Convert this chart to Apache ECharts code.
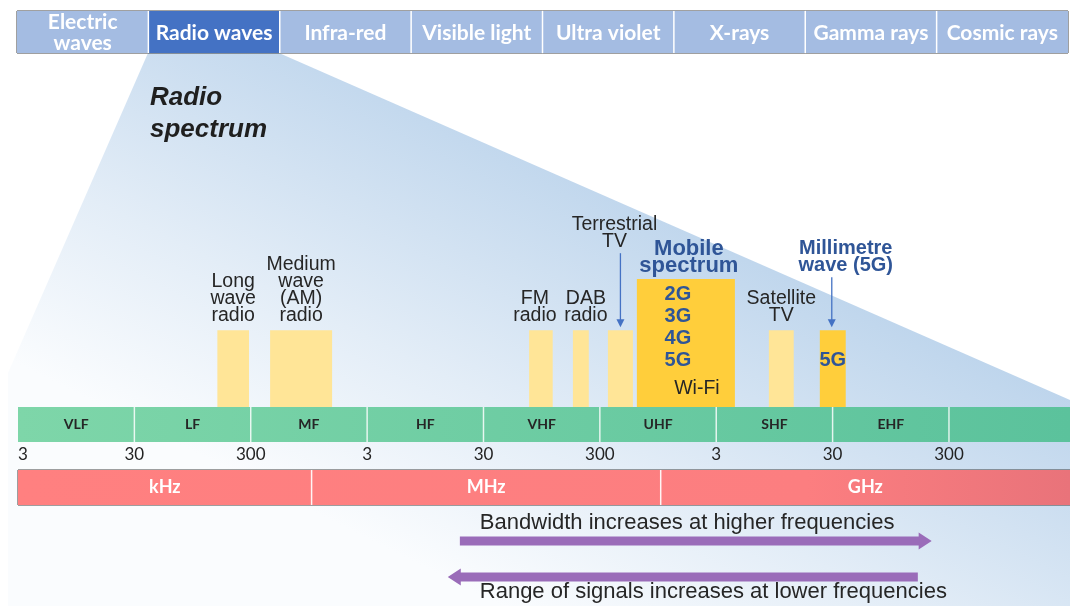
<!DOCTYPE html>
<html><head><meta charset="utf-8">
<script src="https://cdn.jsdelivr.net/npm/echarts@6/dist/echarts.min.js"></script>
<style>html,body{margin:0;padding:0;background:#fff}#c{width:1070px;height:606px}</style>
</head><body><div id="c"></div>
<script>
// ---------------- data ----------------
const spectrumNames = ['Electric\nwaves', 'Radio waves', 'Infra-red', 'Visible light', 'Ultra violet', 'X-rays', 'Gamma rays', 'Cosmic rays'];
const highlightedSpectrum = 'Radio waves';

const bandNames = ['VLF', 'LF', 'MF', 'HF', 'VHF', 'UHF', 'SHF', 'EHF', ''];
const bandStartMHz = [0.003, 0.03, 0.3, 3, 30, 300, 3000, 30000, 300000];
const tickLabels = ['3', '30', '300', '3', '30', '300', '3', '30', '300'];

const unitNames = ['kHz', 'MHz', 'GHz'];
const unitStartMHz = [0.003, 1, 1000];

const allocNames = ['Long\nwave\nradio', 'Medium\nwave\n(AM)\nradio', 'FM\nradio', 'DAB\nradio', 'Terrestrial\nTV', 'Mobile\nspectrum', 'Satellite\nTV', 'Millimetre\nwave (5G)'];
const allocStartMHz = [0.155, 0.44, 74, 176, 352, 624, 8500, 23300];
const allocEndMHz   = [0.29, 1.5, 118, 241, 577, 4340, 13900, 38900];
const allocHeight   = [3, 3, 3, 3, 3, 5, 3, 3];
const allocGroup    = ['broadcast', 'broadcast', 'broadcast', 'broadcast', 'broadcast', 'mobile', 'broadcast', 'mobile'];
const allocInner    = ['', '', '', '', '', '2G\n3G\n4G\n5G', '', '5G'];
const allocNote     = ['', '', '', '', '', 'Wi-Fi', '', ''];

const arrowTexts  = ['Bandwidth increases at higher frequencies', 'Range of signals increases at lower frequencies'];
const arrowFromMHz = [18.8, 162000];
const arrowToMHz   = [213000, 14.8];

// ---------------- layout / style ----------------
const XMAX = 9.04; // decades shown (from 3 kHz)
const dec = mhz => Math.log10(mhz / 0.003);
const ARIAL = '"Liberation Sans", Arial, sans-serif';
const CAL = 'Lato, "Open Sans", sans-serif';
const labelStyle = [
  {dx: 0, lift: 6}, {dx: 0, lift: 6}, {dx: -6, lift: 6}, {dx: 5, lift: 6},
  {dx: -6, lift: 80, arrow: true, adx: 0}, {dx: 3, lift: 4.5, innerDx: -8, noteDx: 11, fs: 22},
  {dx: 0, lift: 6}, {dx: 13, lift: 56, arrow: true, adx: -1, innerDx: 0, fs: 20}
];
const arrowTextStyle = [{dx: 20, dy: -18}, {dx: 32, dy: 15}];

const G = (x1, x2, stops) => new echarts.graphic.LinearGradient(x1, 0, x2, 0, stops.map((c, i) => ({offset: c[0], color: c[1]})), true);
const greenFill = G(18, 1070, [[0, '#7ED6A9'], [1, '#5BC29C']]);
const redFill = G(18, 1070, [[0, '#FF8080'], [0.75, '#FC7E80'], [1, '#E9737A']]);

function renderHeader(params, api) {
  const i = params.dataIndex;
  const c = api.coord([i, 0]);
  const t = api.coord([i, 1]);
  const w = api.size([1, 0])[0];
  const x0 = c[0] - w / 2;
  const ch = [{type: 'rect', shape: {x: x0, y: t[1], width: w, height: c[1] - t[1]},
    style: {fill: spectrumNames[i] === highlightedSpectrum ? '#4472C4' : '#A4BCE2'}}];
  if (i > 0) ch.push({type: 'line', shape: {x1: x0, y1: t[1], x2: x0, y2: c[1]}, style: {stroke: '#fff', lineWidth: 1.5}});
  ch.push({type: 'text', style: {text: spectrumNames[i], x: c[0], y: (c[1] + t[1]) / 2 + 1, align: 'center', verticalAlign: 'middle',
    fontFamily: CAL, fontWeight: 'bold', fontSize: 21, lineHeight: 21, fill: '#fff'}});
  return {type: 'group', children: ch};
}

function renderBand(params, api) {
  const i = params.dataIndex;
  const p0 = api.coord([api.value(0), 1]);
  const p1 = api.coord([api.value(1), 0]);
  const ch = [{type: 'rect', shape: {x: p0[0], y: p0[1], width: p1[0] - p0[0], height: p1[1] - p0[1]}, style: {fill: greenFill}}];
  if (i > 0) ch.push({type: 'line', shape: {x1: p0[0], y1: p0[1], x2: p0[0], y2: p1[1]}, style: {stroke: '#fff', lineWidth: 1.5, opacity: 0.8}});
  ch.push({type: 'text', style: {text: bandNames[i], x: (p0[0] + p1[0]) / 2, y: (p0[1] + p1[1]) / 2, align: 'center', verticalAlign: 'middle',
    fontFamily: CAL, fontWeight: 'bold', fontSize: 14, fill: '#262626'}});
  return {type: 'group', children: ch};
}

function renderUnit(params, api) {
  const i = params.dataIndex;
  const p0 = api.coord([api.value(0), 1]);
  const p1 = api.coord([api.value(1), 0]);
  const ch = [{type: 'rect', shape: {x: p0[0], y: p0[1], width: p1[0] - p0[0], height: p1[1] - p0[1]}, style: {fill: redFill}}];
  if (i > 0) ch.push({type: 'line', shape: {x1: p0[0], y1: p0[1], x2: p0[0], y2: p1[1]}, style: {stroke: '#fff', lineWidth: 1.5, opacity: 0.9}});
  ch.push({type: 'text', style: {text: unitNames[i], x: (p0[0] + p1[0]) / 2, y: (p0[1] + p1[1]) / 2, align: 'center', verticalAlign: 'middle',
    fontFamily: CAL, fontWeight: 'bold', fontSize: 18, fill: '#fff'}});
  return {type: 'group', children: ch};
}

function renderAlloc(params, api) {
  const i = params.dataIndex;
  const x0 = api.coord([api.value(0), 0])[0];
  const x1 = api.coord([api.value(1), 0])[0];
  const yb = api.coord([0, 0])[1];
  const yt = api.coord([0, api.value(2)])[1];
  const mob = allocGroup[i] === 'mobile';
  const st = labelStyle[i];
  const cx = (x0 + x1) / 2;
  const ch = [{type: 'rect', shape: {x: x0, y: yt, width: x1 - x0, height: yb - yt}, style: {fill: mob ? '#FFCE3B' : '#FFE597'}}];
  ch.push({type: 'text', style: {text: allocNames[i], x: cx + st.dx, y: yt - st.lift, align: 'center', verticalAlign: 'bottom',
    fontFamily: ARIAL, fontSize: st.fs || 19.5, fontWeight: mob ? 'bold' : 'normal', lineHeight: 17, fill: mob ? '#2F5597' : '#262626'}});
  if (st.arrow) {
    const ax = cx + st.adx, y1 = yt - st.lift + 3, y2 = yt - 3;
    ch.push({type: 'line', shape: {x1: ax, y1: y1, x2: ax, y2: y2 - 6}, style: {stroke: '#4472C4', lineWidth: 1.3}});
    ch.push({type: 'polygon', shape: {points: [[ax - 4, y2 - 8], [ax + 4, y2 - 8], [ax, y2]]}, style: {fill: '#4472C4'}});
  }
  if (allocInner[i]) {
    ch.push({type: 'text', style: {text: allocInner[i], x: cx + (st.innerDx || 0), y: yb - 36, align: 'center', verticalAlign: 'bottom',
      fontFamily: ARIAL, fontSize: 20, fontWeight: 'bold', lineHeight: 22, fill: '#2F5597'}});
  }
  if (allocNote[i]) {
    ch.push({type: 'text', style: {text: allocNote[i], x: cx + (st.noteDx || 0), y: yb - 18, align: 'center', verticalAlign: 'middle',
      fontFamily: ARIAL, fontSize: 19.5, fill: '#262626'}});
  }
  return {type: 'group', children: ch};
}

function renderArrow(params, api) {
  const i = params.dataIndex;
  const a = api.coord([api.value(0), api.value(2)]);
  const b = api.coord([api.value(1), api.value(2)]);
  const dir = b[0] > a[0] ? 1 : -1;
  const y = a[1], hw = 4.5, hh = 8.5, hl = 13;
  const xb = b[0] - dir * hl;
  const pts = [[a[0], y - hw], [xb, y - hw], [xb, y - hh], [b[0], y], [xb, y + hh], [xb, y + hw], [a[0], y + hw]];
  const st = arrowTextStyle[i];
  return {type: 'group', children: [
    {type: 'polygon', shape: {points: pts}, style: {fill: '#9A6CB9'}},
    {type: 'text', style: {text: arrowTexts[i], x: Math.min(a[0], b[0]) + st.dx, y: y + st.dy, align: 'left', verticalAlign: 'middle',
      fontFamily: ARIAL, fontSize: 22, fill: '#262626'}}
  ]};
}

const hiddenX = (g) => ({gridIndex: g, type: 'value', min: 0, max: XMAX, show: false});
const hiddenY = (g, max, inv) => ({gridIndex: g, type: 'value', min: 0, max: max, show: false, inverse: !!inv});

const fanFill = new echarts.graphic.LinearGradient(330, 520, 560, 60, [
  {offset: 0, color: '#FAFCFE'}, {offset: 0.35, color: '#E3EDF7'}, {offset: 1, color: '#B3CEE9'}], true);

const option = {
  animation: false,
  backgroundColor: '#fff',
  graphic: [
    {type: 'polygon', z: -10, shape: {points: [[148, 53], [279, 53], [1070, 400], [1070, 606], [8, 606], [8, 373]]}, style: {fill: fanFill}},
    {type: 'text', z: 1, style: {text: 'Radio\nspectrum', x: 150, y: 82, fontFamily: ARIAL, fontWeight: 'bold', fontStyle: 'italic', fontSize: 26, lineHeight: 32, fill: '#1F1F1F'}}
  ],
  grid: [
    {left: 18, width: 1052, top: 279, height: 128},
    {left: 18, width: 1052, top: 407, height: 35},
    {left: 18, width: 1052, top: 470, height: 35, show: true, borderColor: '#404040', borderWidth: 1, backgroundColor: 'transparent'},
    {left: 17, width: 1051, top: 11, height: 42, show: true, borderColor: '#404040', borderWidth: 1, backgroundColor: 'transparent'},
    {left: 18, width: 1052, top: 541, height: 36}
  ],
  xAxis: [
    hiddenX(0),
    {gridIndex: 1, type: 'value', min: 0, max: XMAX, interval: 1,
      axisLine: {show: false}, axisTick: {show: false}, splitLine: {show: false},
      axisLabel: {margin: 4, fontFamily: CAL, fontSize: 17, color: '#222', alignMinLabel: 'left', showMaxLabel: false,
        formatter: v => tickLabels[Math.round(v)] || ''}},
    hiddenX(2),
    {gridIndex: 3, type: 'category', data: spectrumNames, show: false},
    hiddenX(4)
  ],
  yAxis: [hiddenY(0, 5), hiddenY(1, 1), hiddenY(2, 1), hiddenY(3, 1), hiddenY(4, 1, true)],
  series: [
    {type: 'custom', xAxisIndex: 3, yAxisIndex: 3, renderItem: renderHeader, data: spectrumNames.map((n, i) => [i, 0])},
    {type: 'custom', xAxisIndex: 1, yAxisIndex: 1, renderItem: renderBand,
      data: bandNames.map((n, i) => [dec(bandStartMHz[i]), i + 1 < bandStartMHz.length ? dec(bandStartMHz[i + 1]) : XMAX])},
    {type: 'custom', xAxisIndex: 2, yAxisIndex: 2, renderItem: renderUnit,
      data: unitNames.map((n, i) => [dec(unitStartMHz[i]), i + 1 < unitStartMHz.length ? dec(unitStartMHz[i + 1]) : XMAX])},
    {type: 'custom', xAxisIndex: 0, yAxisIndex: 0, renderItem: renderAlloc,
      data: allocNames.map((n, i) => [dec(allocStartMHz[i]), dec(allocEndMHz[i]), allocHeight[i]])},
    {type: 'custom', xAxisIndex: 4, yAxisIndex: 4, renderItem: renderArrow,
      data: arrowTexts.map((n, i) => [dec(arrowFromMHz[i]), dec(arrowToMHz[i]), i])}
  ]
};
echarts.init(document.getElementById('c')).setOption(option);
</script>
</body></html>
